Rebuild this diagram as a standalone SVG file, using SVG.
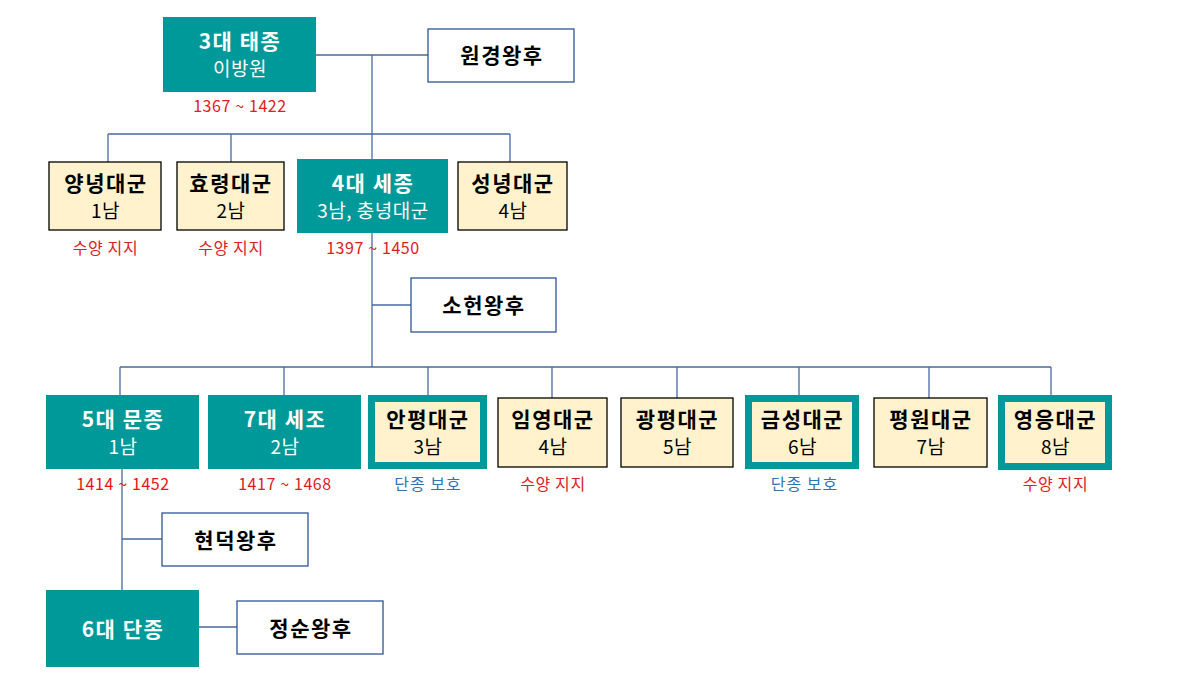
<svg xmlns="http://www.w3.org/2000/svg" width="1177" height="688" viewBox="0 0 1177 688">
<style>
text{font-family:"Malgun Gothic","Noto Sans CJK KR","Noto Sans",sans-serif;text-anchor:middle}
.teal{fill:#009999}
.cream{fill:#FFF2CC;stroke:#000;stroke-width:1.3}
.creamT{fill:#FFF2CC;stroke:#009999;stroke-width:7}
.white{fill:#fff;stroke:#2F5597;stroke-width:1.3}
.t1{font-size:21px;font-weight:bold;letter-spacing:1.5px}
.t2{font-size:19px;letter-spacing:0.5px}
.w{fill:#fff}
.k{fill:#000}
.red{fill:#E0201E;font-size:16px;letter-spacing:0.6px}
.blue{fill:#2E75B6;font-size:16px;letter-spacing:1px}
.conn{stroke:#4A6AA0;stroke-width:1.3;fill:none}
</style>
<rect width="1177" height="688" fill="#fff"/>
<g id="connectors" class="conn">
<path d="M316 55H428M372 55V159M108 134H510M108 134V162M231 134V162M510 134V162"/>
<path d="M372 233V367M372 305H411M120 367H1051M120 367V395M284 367V395M428 367V395M552 367V398M677 367V398M799 367V395M929 367V398M1051 367V395"/>
<path d="M122 469V590M122 539H162M199 627H237"/>
</g>
<g id="taejong"><rect class="teal" x="163" y="17" width="153" height="75"/><text class="t1 w" x="240" y="49">3대 태종</text><text class="t2 w" x="240" y="76">이방원</text><text class="red" x="240" y="112">1367 ~ 1422</text></g>
<g id="wongyeong"><rect class="white" x="428" y="29" width="146" height="53"/><text class="t1 k" x="502" y="63">원경왕후</text></g>
<g id="yangnyeong"><rect class="cream" x="49" y="162" width="112" height="68"/><text class="t1 k" x="106" y="191">양녕대군</text><text class="t2 k" x="105.5" y="218">1남</text><text class="red" x="105.5" y="254">수양 지지</text></g>
<g id="hyoryeong"><rect class="cream" x="177" y="162" width="107" height="68"/><text class="t1 k" x="231" y="191">효령대군</text><text class="t2 k" x="231" y="218">2남</text><text class="red" x="231" y="254">수양 지지</text></g>
<g id="sejong"><rect class="teal" x="297" y="159" width="151" height="74"/><text class="t1 w" x="373" y="191">4대 세종</text><text class="t2 w" x="373" y="218">3남, 충녕대군</text><text class="red" x="373" y="254">1397 ~ 1450</text></g>
<g id="seongnyeong"><rect class="cream" x="458" y="162" width="109" height="68"/><text class="t1 k" x="513" y="191">성녕대군</text><text class="t2 k" x="513" y="218">4남</text></g>
<g id="soheon"><rect class="white" x="411" y="278" width="145" height="54"/><text class="t1 k" x="484" y="313">소헌왕후</text></g>
<g id="munjong"><rect class="teal" x="46" y="395" width="153" height="74"/><text class="t1 w" x="123" y="427">5대 문종</text><text class="t2 w" x="123" y="454">1남</text><text class="red" x="123" y="490" style="fill:#F01010">1414 ~ 1452</text></g>
<g id="sejo"><rect class="teal" x="208" y="395" width="153" height="74"/><text class="t1 w" x="285" y="427">7대 세조</text><text class="t2 w" x="285" y="454">2남</text><text class="red" x="285" y="490">1417 ~ 1468</text></g>
<g id="anpyeong"><rect class="creamT" x="371.5" y="398.5" width="112" height="67"/><text class="t1 k" x="428" y="427">안평대군</text><text class="t2 k" x="428" y="454">3남</text><text class="blue" x="428" y="490">단종 보호</text></g>
<g id="imyeong"><rect class="cream" x="498" y="398" width="109" height="69"/><text class="t1 k" x="553" y="427">임영대군</text><text class="t2 k" x="553" y="454">4남</text><text class="red" x="553" y="490">수양 지지</text></g>
<g id="gwangpyeong"><rect class="cream" x="621" y="398" width="112" height="69"/><text class="t1 k" x="677.5" y="427">광평대군</text><text class="t2 k" x="677.5" y="454">5남</text></g>
<g id="geumseong"><rect class="creamT" x="748.5" y="398.5" width="107" height="67"/><text class="t1 k" x="802.5" y="427">금성대군</text><text class="t2 k" x="802.5" y="454">6남</text><text class="blue" x="804.5" y="490">단종 보호</text></g>
<g id="pyeongwon"><rect class="cream" x="874" y="398" width="113" height="69"/><text class="t1 k" x="931" y="427">평원대군</text><text class="t2 k" x="931" y="454">7남</text></g>
<g id="yeongeung"><rect class="creamT" x="1001.5" y="398.5" width="107" height="68"/><text class="t1 k" x="1055.5" y="427">영응대군</text><text class="t2 k" x="1055.5" y="454">8남</text><text class="red" x="1055.5" y="490">수양 지지</text></g>
<g id="hyeondeok"><rect class="white" x="162" y="513" width="146" height="53"/><text class="t1 k" x="236" y="548">현덕왕후</text></g>
<g id="danjong"><rect class="teal" x="46" y="590" width="153" height="77"/><text class="t1 w" x="123" y="637">6대 단종</text></g>
<g id="jeongsun"><rect class="white" x="237" y="601" width="146" height="53"/><text class="t1 k" x="311" y="636">정순왕후</text></g>
</svg>
